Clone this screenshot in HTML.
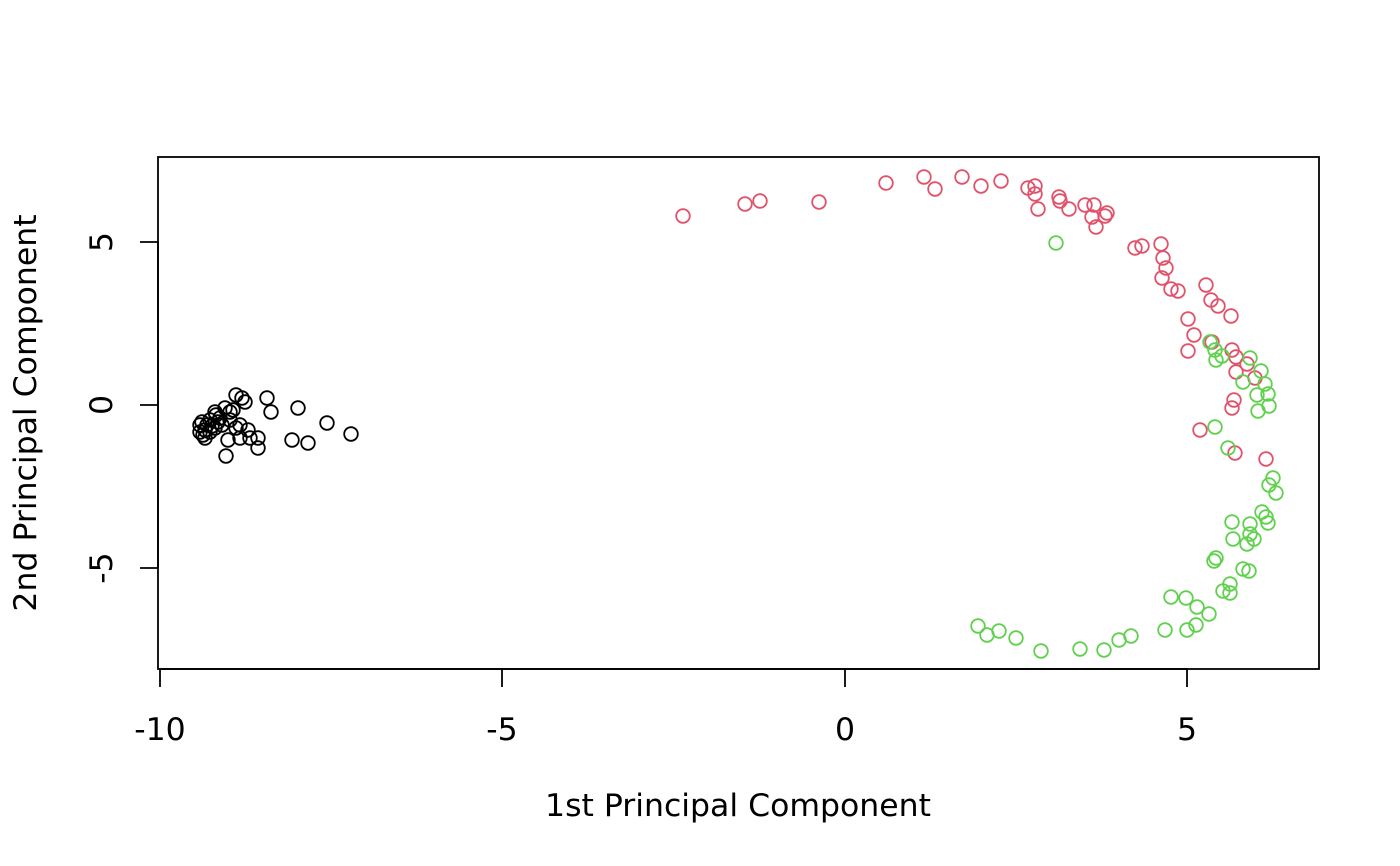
<!DOCTYPE html>
<html><head><style>body{margin:0;background:#fff}svg{display:block}</style></head><body>
<svg width="1400" height="866" xmlns="http://www.w3.org/2000/svg" font-family="DejaVu Sans, Liberation Sans, sans-serif">
<rect width="1400" height="866" fill="#fff"/>
<rect x="158" y="157" width="1161" height="512" fill="none" stroke="#000" stroke-width="1.8"/>
<g stroke="#000" stroke-width="1.8">
<line x1="160" y1="669" x2="1187" y2="669"/>
<line x1="160" y1="669" x2="160" y2="687"/><line x1="502" y1="669" x2="502" y2="687"/>
<line x1="845" y1="669" x2="845" y2="687"/><line x1="1187" y1="669" x2="1187" y2="687"/>
<line x1="158" y1="242" x2="158" y2="568"/>
<line x1="140" y1="242" x2="158" y2="242"/><line x1="140" y1="405" x2="158" y2="405"/><line x1="140" y1="568" x2="158" y2="568"/>
</g>
<g font-size="31.5" text-anchor="middle">
<text x="160" y="740">-10</text><text x="502" y="740">-5</text><text x="845" y="740">0</text><text x="1187" y="740">5</text>
<text x="738" y="816">1st Principal Component</text>
<text transform="translate(112,242) rotate(-90)">5</text>
<text transform="translate(112,405) rotate(-90)">0</text>
<text transform="translate(112,568) rotate(-90)">-5</text>
<text transform="translate(36,413) rotate(-90)">2nd Principal Component</text>
</g>
<g fill="none" stroke-width="1.8" id="pts"></g>
</svg>
<script>
const B=[[200,425],[203,435],[205,430],[210,420],[215,412],[220,418],[225,408],[230,412],[236,395],[242,398],[245,402],[233,410],[240,425],[248,430],[250,438],[258,438],[258,448],[226,456],[228,440],[240,438],[267,398],[271,412],[298,408],[292,440],[308,443],[327,423],[351,434],[205,438],[210,432],[215,428],[218,422],[212,426],[200,432],[207,425],[222,425],[216,415],[202,422],[230,420],[236,428]];
const R=[[683,216],[745,204],[760,201],[819,202],[886,183],[924,177],[935,189],[962,177],[981,186],[1001,181],[1028,188],[1035,186],[1035,194],[1038,209],[1059,197],[1060,201],[1069,209],[1085,205],[1094,205],[1092,217],[1096,227],[1105,216],[1107,213],[1135,248],[1142,246],[1161,244],[1163,258],[1166,268],[1162,278],[1171,289],[1178,291],[1206,285],[1211,300],[1218,306],[1231,316],[1188,319],[1194,335],[1188,351],[1212,342],[1232,350],[1236,357],[1247,364],[1236,372],[1255,378],[1232,408],[1234,400],[1200,430],[1235,453],[1266,459]];
const G=[[1056,243],[1210,342],[1215,350],[1216,360],[1222,356],[1250,358],[1261,371],[1265,384],[1243,382],[1268,394],[1257,395],[1269,406],[1258,411],[1215,427],[1228,448],[1273,478],[1269,485],[1276,493],[1262,512],[1266,517],[1268,523],[1250,524],[1232,522],[1250,534],[1254,539],[1233,539],[1247,544],[1216,558],[1214,561],[1243,569],[1249,571],[1230,584],[1223,591],[1230,593],[1171,597],[1186,598],[1197,607],[1209,614],[1196,625],[1165,630],[1187,630],[978,626],[987,635],[999,631],[1016,638],[1041,651],[1080,649],[1104,650],[1119,640],[1131,636]];
let s='';
[[B,'#000'],[R,'#DF536B'],[G,'#61D04F']].forEach(([a,c])=>a.forEach(([x,y])=>s+=`<circle cx="${x}" cy="${y}" r="6.8" stroke="${c}"/>`));
document.getElementById('pts').innerHTML=s;
</script>
</body></html>
